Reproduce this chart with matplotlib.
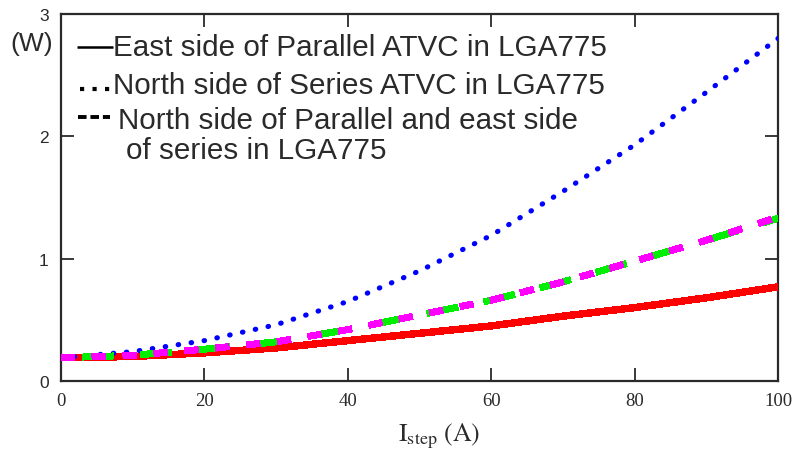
import matplotlib
matplotlib.use("Agg")
import matplotlib.pyplot as plt
from matplotlib.lines import Line2D

# Step current (A) and dissipated power (W) for each location
i_step = [0, 10, 20, 30, 40, 50, 60, 70, 80, 90, 100]
east_parallel = [0.19, 0.20, 0.23, 0.27, 0.33, 0.39, 0.45, 0.53, 0.60, 0.68, 0.77]
north_series = [0.19, 0.24, 0.33, 0.46, 0.65, 0.90, 1.19, 1.55, 1.93, 2.36, 2.80]
north_parallel = [0.19, 0.21, 0.26, 0.32, 0.42, 0.54, 0.66, 0.81, 0.98, 1.15, 1.33]
east_series = [0.19, 0.21, 0.26, 0.32, 0.42, 0.54, 0.66, 0.81, 0.98, 1.15, 1.34]

legend_labels = [
    "East side of Parallel ATVC in LGA775",
    "North side of Series ATVC in LGA775",
    "North side of Parallel and east side",
    "of series in LGA775",
]
x_ticks = [0, 20, 40, 60, 80, 100]
y_ticks = [0, 1, 2, 3]

W, H = 797, 456
fig = plt.figure(figsize=(W / 100, H / 100), dpi=100)


def fx(px):
    return px / W


def fy(py):
    return 1 - py / H


ax = fig.add_axes([fx(61), fy(382), fx(778) - fx(61), fy(15) - fy(382)])
ax.set_xlim(0, 100)
ax.set_ylim(0, 3)

ink = "#2a2a2a"
for s in ax.spines.values():
    s.set_linewidth(1.6)
    s.set_color(ink)

# curves
ax.plot(i_step, east_parallel, color="#ff0000", lw=4.6, solid_capstyle="butt",
        antialiased=False, zorder=3)
ax.plot(i_step, north_series, color="#0000ff", lw=3.7,
        linestyle=(0, (0.1, 2.45)), dash_capstyle="round", zorder=3)
ax.plot(i_step, north_parallel, color="#00ee00", lw=4.4,
        linestyle=(6, (5.2, 4.4)), dash_capstyle="butt", antialiased=False, zorder=3)
ax.plot(i_step, east_series, color="#ff00ff", lw=4.4,
        linestyle=(0, (2.2, 2.8)), dash_capstyle="butt", antialiased=False, zorder=4)

# ticks
ax.set_xticks(x_ticks)
ax.set_yticks(y_ticks)
ax.tick_params(axis="both", direction="in", length=9.5, width=1.3, color=ink,
               top=True, right=True)
ax.tick_params(axis="x", pad=8)
ax.tick_params(axis="y", pad=9)
ax.set_xticklabels([str(v) for v in x_ticks], family="Liberation Serif",
                   fontsize=13.5, color=ink)
ax.set_yticklabels([str(v) for v in y_ticks], family="Liberation Sans",
                   fontsize=12.5, color=ink)

# axis labels
fig.text(fx(32), fy(44), "(W)", family="Liberation Sans", fontsize=19,
         color=ink, ha="center", va="center")
fig.text(fx(398), fy(441), r"$\mathrm{I_{step}}$ (A)", family="STIXGeneral",
         fontsize=18.5, color=ink, ha="left", va="baseline",
         math_fontfamily="stix")

# legend
fsz = 21.3
fig.text(fx(113), fy(56), legend_labels[0], family="Liberation Sans",
         fontsize=fsz, color=ink, va="baseline")
fig.text(fx(113), fy(94), legend_labels[1], family="Liberation Sans",
         fontsize=fsz, color=ink, va="baseline")
fig.text(fx(118), fy(129), legend_labels[2], family="Liberation Sans",
         fontsize=fsz, color=ink, va="baseline")
fig.text(fx(126), fy(159), legend_labels[3], family="Liberation Sans",
         fontsize=fsz, color=ink, va="baseline")

fig.add_artist(Line2D([fx(77), fx(113)], [fy(48), fy(48)], color="black",
                      lw=1.8, solid_capstyle="butt"))
fig.add_artist(Line2D([fx(80), fx(110)], [fy(90), fy(90)], color="black",
                      lw=3.0, linestyle=(0, (1, 2.0)), dash_capstyle="butt"))
fig.add_artist(Line2D([fx(78), fx(110)], [fy(118), fy(118)], color="black",
                      lw=2.8, linestyle=(0, (2.2, 1.0)), dash_capstyle="butt"))

fig.savefig("out.png", dpi=100)
